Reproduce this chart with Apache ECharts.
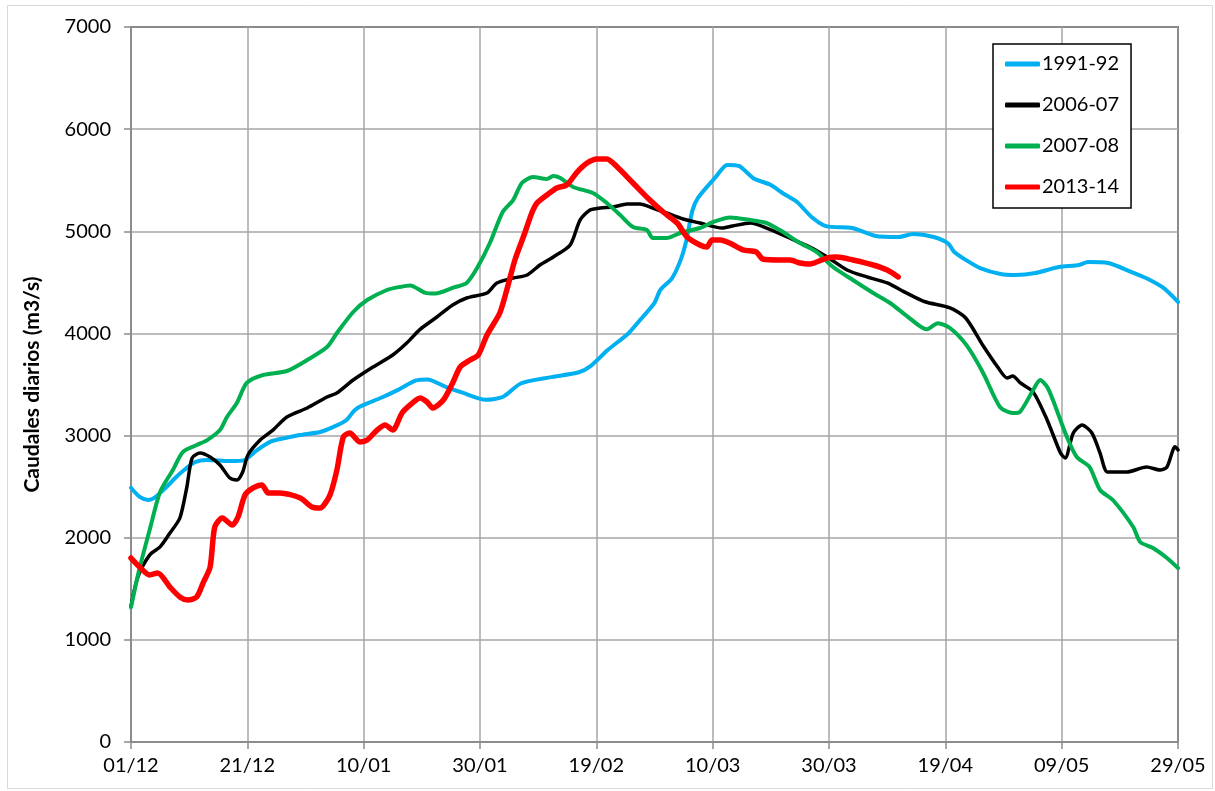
<!DOCTYPE html>
<html>
<head>
<meta charset="utf-8">
<title>Caudales diarios</title>
<script src="https://cdn.jsdelivr.net/npm/echarts@6/dist/echarts.min.js"></script>
<style>
  html, body { margin: 0; padding: 0; background: #fff; }
  #chart { width: 1215px; height: 791px; }
</style>
</head>
<body>
<div id="chart"></div>
<script>
// Day index counted from 01/12 (leap-year season), one tick every 20 days
const tickLabels = ['01/12', '21/12', '10/01', '30/01', '19/02', '10/03', '30/03', '19/04', '09/05', '29/05'];

const seriesNames = ['1991-92', '2006-07', '2007-08', '2013-14'];

// [day, caudal m3/s]
const q1991 = [
  [0, 2490], [1.5, 2400], [3, 2370], [4, 2390], [6, 2490], [7.5, 2580], [9.5, 2680], [11, 2740],
  [13, 2760], [17, 2750], [19.5, 2760], [21.5, 2850], [24, 2940], [26.5, 2975], [29, 3005],
  [32.5, 3035], [35, 3090], [37, 3150], [38.5, 3250], [40, 3300], [43, 3370], [46, 3450],
  [49, 3540], [51, 3550], [54, 3480], [57, 3420], [61, 3350], [64, 3380], [67, 3510], [72, 3570],
  [77, 3620], [79, 3680], [82, 3840], [85.5, 4000], [87.5, 4130], [90, 4300], [91, 4425],
  [93, 4540], [94.5, 4720], [95.5, 4915], [96.5, 5200], [97.5, 5330], [100.5, 5530],
  [102.5, 5650], [104.5, 5640], [107, 5520], [110, 5453], [112, 5375], [114.5, 5287],
  [117, 5140], [119.5, 5050], [124, 5032], [128, 4954], [132, 4944], [134.5, 4973], [138, 4944],
  [140.5, 4880], [141.5, 4800], [143.5, 4720], [146, 4640], [149.5, 4582], [152, 4572],
  [155.5, 4591], [159.5, 4650], [163, 4670], [164.5, 4699], [168, 4689], [172, 4601],
  [174.5, 4542], [177.5, 4445], [180, 4308]
];

const q2006 = [
  [0, 1330], [1.2, 1620], [3.2, 1830], [5, 1910], [6.7, 2046], [8.4, 2193], [9.6, 2496],
  [10.5, 2780], [11.9, 2829], [13.6, 2790], [15.3, 2712], [17, 2584], [18.2, 2565],
  [19.2, 2643], [20.1, 2810], [22.2, 2956], [24.4, 3054], [26.8, 3182], [30.3, 3270],
  [33.7, 3378], [35.4, 3417], [38.2, 3544], [41.6, 3671], [45, 3789], [47.4, 3906],
  [49.7, 4040], [52.6, 4161], [55.3, 4278], [57.7, 4347], [61.2, 4396], [62.9, 4494],
  [65.7, 4542], [68.1, 4572], [70.3, 4670], [72.6, 4748], [75.5, 4866], [77.2, 5110],
  [78.9, 5208], [80.7, 5228], [82.9, 5238], [85.3, 5267], [87.5, 5267], [89.7, 5228],
  [92.1, 5179], [94.9, 5120], [97.8, 5081], [101.6, 5032], [103.4, 5052], [106.5, 5081],
  [109.3, 5032], [112.8, 4944], [116.7, 4846], [119.7, 4748], [123.1, 4621], [126.5, 4553],
  [130, 4494], [133.2, 4400], [136.5, 4310], [140.8, 4250], [143.5, 4151], [146.5, 3880],
  [149, 3671], [150.6, 3564], [151.6, 3583], [152.9, 3515], [155.1, 3427], [157.5, 3153],
  [159.8, 2829], [160.6, 2780], [162, 3025], [163.5, 3104], [165.2, 3025], [166.6, 2829],
  [167.9, 2643], [171.2, 2643], [174.6, 2692], [176.9, 2663], [178.1, 2692], [179.5, 2890],
  [180, 2860]
];

const q2007 = [
  [0, 1320], [1.4, 1684], [3.2, 2075], [5, 2448], [7.2, 2663], [8.9, 2839], [11.3, 2908],
  [13.1, 2956], [15.3, 3054], [16.5, 3182], [18.2, 3319], [19.9, 3515], [22.7, 3593],
  [26.8, 3632], [30.3, 3740], [33.7, 3867], [35.4, 4004], [38.2, 4210], [40.6, 4327],
  [44, 4425], [46.2, 4455], [48, 4470], [50.5, 4400], [52.3, 4390], [55.5, 4450],
  [57.7, 4494], [59.5, 4640], [61.7, 4885], [63.9, 5189], [65.7, 5306], [67.2, 5473],
  [69.1, 5531], [71.5, 5512], [72.6, 5541], [73.8, 5522], [76, 5434], [79.4, 5375],
  [81.8, 5277], [84.1, 5159], [86.3, 5042], [88.7, 5012], [89.7, 4934], [92.1, 4934],
  [94.4, 4983], [97.8, 5032], [100.1, 5091], [103, 5135], [106.5, 5110], [109.3, 5081],
  [112.1, 4993], [115, 4885], [117.9, 4797], [120.7, 4650], [124.1, 4523], [127.6, 4396],
  [130.5, 4298], [133.4, 4170], [136.8, 4040], [138.7, 4100], [140.8, 4053], [143.7, 3880],
  [146.5, 3613], [149.4, 3280], [151.6, 3221], [152.8, 3231], [155.1, 3446], [156.3, 3544],
  [157.5, 3476], [158.5, 3348], [160.9, 2986], [162.6, 2790], [164.8, 2692], [166.6, 2467],
  [168.8, 2369], [172.3, 2105], [173.5, 1958], [175.7, 1899], [178.1, 1801], [180, 1703]
];

const q2013 = [
  [0, 1801], [1.5, 1713], [3.2, 1635], [4.6, 1654], [6.7, 1517], [8.4, 1420], [9.8, 1390],
  [11.3, 1420], [12.4, 1557], [13.6, 1713], [14.4, 2105], [15.7, 2193], [17.4, 2124],
  [18.4, 2203], [19.6, 2418], [21, 2487], [22.5, 2516], [23.6, 2438], [25.6, 2438],
  [29.1, 2389], [31.1, 2301], [32.5, 2291], [34.2, 2418], [35.4, 2663], [36.5, 2986],
  [37.6, 3025], [39.4, 2937], [40.6, 2956], [42.3, 3054], [43.7, 3104], [45, 3054],
  [46.6, 3221], [48, 3300], [49.7, 3368], [50.9, 3329], [51.9, 3270], [53.7, 3348],
  [55.3, 3515], [56.6, 3671], [58.3, 3740], [59.7, 3789], [61.2, 3984], [63.4, 4200],
  [64.6, 4425], [66, 4719], [67.7, 4983], [68.9, 5179], [69.8, 5277], [71.5, 5355],
  [73.2, 5424], [74.9, 5453], [76.7, 5580], [78.4, 5668], [80.1, 5708], [81.8, 5708],
  [83.6, 5629], [86.3, 5473], [89.2, 5306], [91.5, 5189], [93.9, 5081], [95.6, 4944],
  [97.8, 4866], [99, 4846], [99.9, 4915], [101.3, 4915], [102.9, 4885], [105.2, 4817],
  [107.5, 4797], [108.6, 4729], [111.6, 4719], [113.3, 4719], [115, 4689], [116.7, 4680],
  [119.6, 4738], [121.3, 4748], [124.1, 4719], [127.6, 4670], [130, 4621], [131.9, 4553]
];

const seriesData = [q1991, q2006, q2007, q2013];
const seriesColors = ['#00B0F0', '#000000', '#00B050', '#FF0000'];
const seriesWidths = [4, 3.5, 4, 5.5];

const FONT = 'Lato, "Open Sans", sans-serif';

const chart = echarts.init(document.getElementById('chart'), null, { renderer: 'canvas' });

chart.setOption({
  animation: false,
  backgroundColor: '#ffffff',
  grid: {
    left: 131, right: 37, top: 27, bottom: 49,
    show: true, borderColor: '#000000', borderWidth: 1.5, backgroundColor: 'transparent'
  },
  graphic: [{
    type: 'rect', silent: true, z: -1,
    shape: { x: 7.5, y: 5.5, width: 1205, height: 783 },
    style: { fill: 'none', stroke: '#d9d9d9', lineWidth: 1 }
  }],
  legend: {
    orient: 'vertical',
    left: 993, top: 44,
    width: 137,
    padding: [10, 12, 11, 12],
    icon: 'roundRect',
    itemWidth: 35, itemHeight: 5, itemGap: 21,
    borderColor: '#000000', borderWidth: 1.5, backgroundColor: '#ffffff',
    textStyle: { fontFamily: FONT, fontSize: 20, color: '#000000', padding: [0, 0, 0, -3] },
    data: seriesNames
  },
  xAxis: {
    type: 'value', min: 0, max: 180, interval: 20,
    axisLine: { show: true, lineStyle: { color: '#8c8c8c', width: 2 } },
    axisTick: { show: true, length: 7, lineStyle: { color: '#8c8c8c', width: 1.5 } },
    axisLabel: {
      margin: 14, fontFamily: FONT, fontSize: 20, color: '#000000',
      formatter: v => tickLabels[Math.round(v / 20)] || ''
    },
    splitLine: { show: true, lineStyle: { color: '#a6a6a6', width: 1.5 } }
  },
  yAxis: {
    type: 'value', min: 0, max: 7000, interval: 1000,
    name: 'Caudales diarios (m3/s)',
    nameLocation: 'middle', nameGap: 88, nameRotate: 90,
    nameTextStyle: { fontFamily: FONT, fontSize: 21, fontWeight: 'bold', color: '#000000' },
    axisLine: { show: true, lineStyle: { color: '#8c8c8c', width: 2 } },
    axisTick: { show: true, length: 7, lineStyle: { color: '#8c8c8c', width: 1.5 } },
    axisLabel: {
      margin: 20, fontFamily: FONT, fontSize: 20, color: '#000000',
      formatter: v => String(v)
    },
    splitLine: { show: true, lineStyle: { color: '#a6a6a6', width: 1.5 } }
  },
  series: seriesNames.map((name, i) => ({
    name,
    type: 'line',
    data: seriesData[i],
    smooth: 0.25,
    symbol: 'none',
    showSymbol: false,
    clip: true,
    color: seriesColors[i],
    lineStyle: { color: seriesColors[i], width: seriesWidths[i], cap: 'round', join: 'round' },
    z: 3 + i
  }))
});
</script>
</body>
</html>
